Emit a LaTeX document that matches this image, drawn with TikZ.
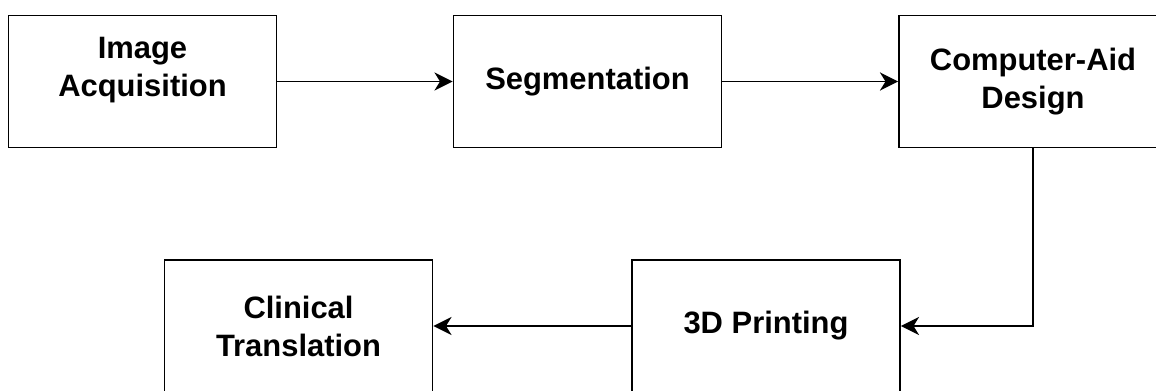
\documentclass[tikz,border=0pt]{standalone}
\usepackage{fontspec}
\setmainfont{Liberation Sans}
\usetikzlibrary{arrows.meta}

\begin{document}
\begin{tikzpicture}[>={Stealth[length=13pt,width=13pt,inset=4pt]},
  stage/.style={draw, line width=1.2pt, minimum width=6.7cm, minimum height=3.3cm,
    inner sep=0pt, align=center, font=\fontsize{22}{27}\selectfont\bfseries},
  flow/.style={->, line width=1.2pt}]
\useasboundingbox (0,0) rectangle (28.9,9.75);

% top row, left to right
\node[stage] (acq) at (3.5625,7.7125) {Image\\Acquisition\rule[-0.75cm]{0pt}{0.75cm}};
\node[stage] (seg) at (14.6875,7.7125) {Segmentation};
\node[stage] (cad) at (25.825,7.7125) {Computer-Aid\\Design};

% bottom row, right to left
\node[stage] (print) at (19.15,1.6) {3D Printing};
\node[stage] (clin) at (7.4625,1.6) {Clinical\\Translation};

% connectors
\draw[flow] (acq) -- (seg);
\draw[flow] (seg) -- (cad);
\draw[flow] (cad.south) |- (print.east);
\draw[flow] (print) -- (clin);

\end{tikzpicture}
\end{document}
